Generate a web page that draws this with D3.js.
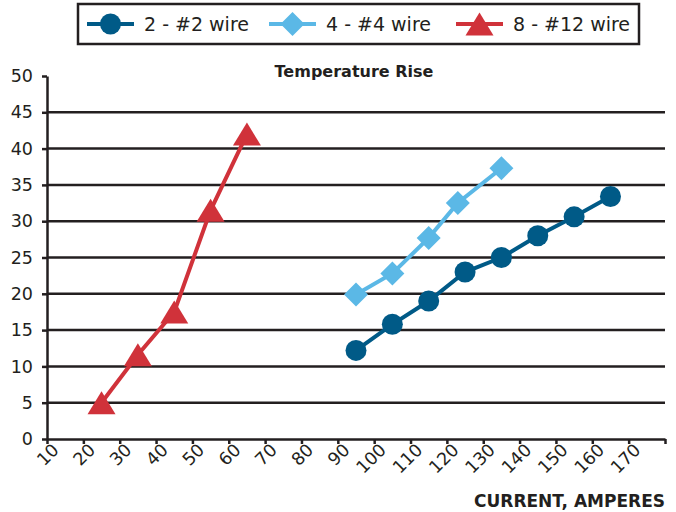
<!DOCTYPE html>
<html lang="en">
<head>
  <meta charset="UTF-8">
  <script src="https://cdn.jsdelivr.net/npm/d3@7"></script>
  <title>Temperature Rise</title>
  <style>
    body { margin: 0; background: #fff; }
  </style>
</head>
<body>
  <svg class="svg" width="676" height="512"></svg>
  <script>
    // values
    const yTicks = [0, 5, 10, 15, 20, 25, 30, 35, 40, 45, 50]
    const xTicks = [10, 20, 30, 40, 50, 60, 70, 80, 90, 100, 110, 120, 130, 140, 150, 160, 170]
    const seriesNames = ["2 - #2 wire", "4 - #4 wire", "8 - #12 wire"]
    const wire2Amps = [95, 105, 115, 125, 135, 145, 155, 165]
    const wire2Rise = [12.2, 15.8, 19, 23, 25, 28, 30.6, 33.4]
    const wire4Amps = [95, 105, 115, 123, 135]
    const wire4Rise = [19.9, 22.8, 27.7, 32.5, 37.3]
    const wire12Amps = [25, 35, 45, 55, 65]
    const wire12Rise = [5, 11.6, 17.5, 31.5, 42]

    const ink = "#231f20"
    const colors = ["#005a87", "#5bb8e6", "#d0323a"]
    const font = "DejaVu Sans"

    let svg = d3.select(".svg")
    let margin = {top: 76, right: 11, bottom: 73, left: 47}
    let width = +svg.attr("width")
    let height = +svg.attr("height")

    let x = d3.scaleLinear().domain([10, 180]).range([margin.left, width - margin.right])
    let y = d3.scaleLinear().domain([0, 50]).range([height - margin.bottom, margin.top])

    // gridlines
    svg.append("g")
      .selectAll("line")
      .data(yTicks.filter(d => d > 0 && d < 50))
      .join("line")
      .attr("x1", x(10)).attr("x2", x(180))
      .attr("y1", d => y(d)).attr("y2", d => y(d))
      .attr("stroke", ink).attr("stroke-width", 2.5)

    // y axis
    let yAxis = svg.append("g")
      .attr("transform", `translate(${x(10)},0)`)
      .call(d3.axisLeft(y).tickValues(yTicks).tickSize(5).tickSizeOuter(0))
    yAxis.selectAll("line, path").attr("stroke", ink).attr("stroke-width", 2.5)
    yAxis.selectAll("text")
      .attr("font-family", font).attr("font-size", 17.5)
      .attr("fill", ink).attr("x", -14)

    // x axis
    let xAxis = svg.append("g")
      .attr("transform", `translate(0,${y(0)})`)
      .call(d3.axisBottom(x).tickValues(xTicks.concat([180])).tickSize(5).tickSizeOuter(0).tickFormat(""))
    xAxis.selectAll("line, path").attr("stroke", ink).attr("stroke-width", 2.5)

    svg.append("g")
      .selectAll("text")
      .data(xTicks)
      .join("text")
      .attr("transform", d => `translate(${x(d) + 13},${y(0) + 12}) rotate(-45)`)
      .attr("text-anchor", "end")
      .attr("font-family", font).attr("font-size", 17.5)
      .attr("fill", ink)
      .text(d => d)

    // titles
    svg.append("text")
      .attr("x", 354).attr("y", 77)
      .attr("text-anchor", "middle")
      .attr("font-family", font).attr("font-weight", "bold").attr("font-size", 16)
      .attr("fill", ink)
      .text("Temperature Rise")

    svg.append("text")
      .attr("x", x(180)).attr("y", 507)
      .attr("text-anchor", "end")
      .attr("font-family", font).attr("font-weight", "bold").attr("font-size", 17)
      .attr("fill", ink)
      .text("CURRENT, AMPERES")

    // markers
    let circle = d3.symbol().type(d3.symbolCircle).size(Math.PI * 10.5 * 10.5)
    let diamond = "M0,-12L12,0L0,12L-12,0Z"
    let triangle = "M0,-11.5L14,11.5L-14,11.5Z"
    let markerPath = [circle(), diamond, triangle]

    let series = [
      {amps: wire2Amps, rise: wire2Rise},
      {amps: wire4Amps, rise: wire4Rise},
      {amps: wire12Amps, rise: wire12Rise}
    ]

    let line = d3.line().x(d => x(d[0])).y(d => y(d[1]))

    series.forEach((s, i) => {
      let pts = s.amps.map((a, j) => [a, s.rise[j]])
      svg.append("path")
        .attr("d", line(pts))
        .attr("fill", "none")
        .attr("stroke", colors[i])
        .attr("stroke-width", 4)
      svg.append("g")
        .selectAll("path")
        .data(pts)
        .join("path")
        .attr("transform", d => `translate(${x(d[0])},${y(d[1])})`)
        .attr("d", markerPath[i])
        .attr("fill", colors[i])
    })

    // legend
    let legend = svg.append("g")
    legend.append("rect")
      .attr("x", 78).attr("y", 4).attr("width", 561).attr("height", 40)
      .attr("fill", "#fff").attr("stroke", ink).attr("stroke-width", 2.5)

    let legendX = [87, 269, 456]
    seriesNames.forEach((name, i) => {
      let g = legend.append("g").attr("transform", `translate(${legendX[i]},24)`)
      g.append("line")
        .attr("x1", 0).attr("x2", 47)
        .attr("stroke", colors[i]).attr("stroke-width", 4)
      g.append("path")
        .attr("transform", "translate(23.5,0)")
        .attr("d", markerPath[i])
        .attr("fill", colors[i])
      g.append("text")
        .attr("x", 57).attr("y", 0).attr("dy", "0.35em")
        .attr("font-family", font).attr("font-size", 19)
        .attr("fill", ink)
        .text(name)
    })
  </script>
</body>
</html>
